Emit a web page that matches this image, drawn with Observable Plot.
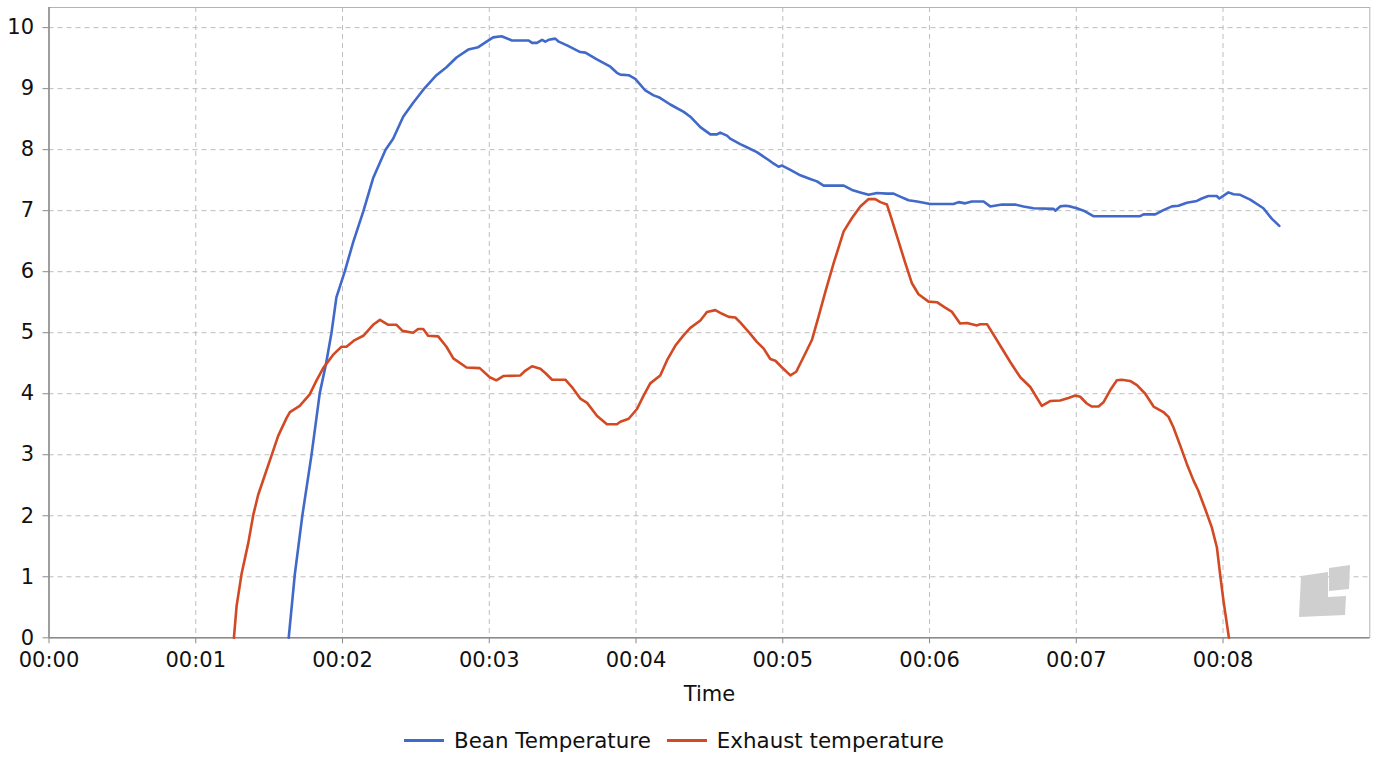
<!DOCTYPE html>
<html>
<head>
<meta charset="utf-8">
<script src="https://cdn.jsdelivr.net/npm/d3@7"></script>
<script src="https://cdn.jsdelivr.net/npm/@observablehq/plot@0.6"></script>
<style>
  html, body { margin: 0; padding: 0; background: #fff; }
  body { width: 1382px; height: 762px; position: relative; overflow: hidden; font-family: "DejaVu Sans", sans-serif; }
  #chart { position: absolute; left: 0; top: 0; }
  #legend { position: absolute; left: 404px; top: 727px; height: 26px; display: flex; align-items: center; font-size: 21.4px; color: #111; white-space: nowrap; }
  .item { display: flex; align-items: center; margin-right: 16px; }
  .sw { width: 40px; height: 3px; margin-right: 10px; }
  #logo { position: absolute; left: 1296px; top: 562px; }
</style>
</head>
<body>
<div id="chart"></div>
<div id="legend"></div>
<svg id="logo" width="60" height="60" viewBox="0 0 60 60">
  <path d="M5 14 L32 10 L32 35 L50 34 L49 53 L3 55 Z" fill="#cfcfcf"/>
  <path d="M33 6 L54 3 L53 27 L33 29 Z" fill="#cfcfcf"/>
</svg>
<script>
// Series names and colours
const seriesNames = ["Bean Temperature", "Exhaust temperature"];
const seriesColors = ["#4169c9", "#d24a24"];

// Tick values (seconds) and labels
const xTicks = [0, 60, 120, 180, 240, 300, 360, 420, 480];
const xTickLabels = ["00:00", "00:01", "00:02", "00:03", "00:04", "00:05", "00:06", "00:07", "00:08"];
const yTicks = [0, 1, 2, 3, 4, 5, 6, 7, 8, 9, 10];

// Bean temperature (time in seconds, value)
const beanTime = [98.0,100.5,103.6,107.3,110.7,113.2,115.5,117.5,120.9,124.4,128.5,132.5,137.6,140.7,144.8,148.9,153.6,158.4,162.5,166.6,171.4,175.5,178.9,181.6,185.0,189.3,196.1,197.5,199.5,201.6,202.9,204.3,207.0,208.4,211.8,217.2,219.3,224.0,229.5,232.2,233.6,237.0,239.7,243.8,247.2,249.3,254.0,259.5,262.2,266.3,270.4,273.1,274.4,277.2,278.5,282.6,285.3,289.4,294.2,296.3,298.3,299.7,303.1,307.2,311.2,314.0,316.7,324.9,328.3,331.7,335.1,338.5,342.6,345.3,348.0,351.4,354.9,360.3,369.8,371.9,374.6,377.3,382.1,384.8,389.6,395.0,398.4,402.5,410.7,411.4,413.4,415.5,417.5,420.2,423.0,427.0,446.1,447.5,452.3,455.6,459.1,461.8,465.2,469.3,471.3,474.0,477.4,478.5,482.2,484.3,487.0,491.1,496.5,499.9,503.0];
const beanTemp = [0,1.04,2.01,2.99,4.01,4.48,5.0,5.58,6.0,6.49,6.99,7.53,8.0,8.18,8.54,8.77,9.01,9.22,9.35,9.51,9.64,9.68,9.77,9.84,9.86,9.79,9.79,9.75,9.75,9.80,9.77,9.80,9.82,9.77,9.71,9.60,9.59,9.48,9.36,9.26,9.23,9.22,9.16,8.97,8.89,8.86,8.74,8.62,8.54,8.37,8.25,8.25,8.28,8.23,8.18,8.09,8.04,7.96,7.83,7.77,7.72,7.74,7.67,7.58,7.52,7.48,7.41,7.41,7.34,7.30,7.26,7.29,7.28,7.28,7.23,7.17,7.15,7.11,7.11,7.14,7.12,7.15,7.15,7.07,7.10,7.10,7.07,7.04,7.03,7.00,7.07,7.08,7.07,7.04,7.00,6.91,6.91,6.94,6.94,7.01,7.07,7.08,7.13,7.16,7.20,7.24,7.24,7.20,7.30,7.27,7.26,7.18,7.04,6.87,6.75];

// Exhaust temperature (time in seconds, value)
const exhaustTime = [75.6,76.7,78.7,81.5,83.5,85.5,88.2,91.0,93.7,97.1,98.5,102.5,106.6,109.4,112.1,116.2,119.6,121.6,125.0,128.5,132.5,135.3,138.7,142.1,144.5,148.9,150.9,153.0,155.0,159.1,162.5,165.3,170.7,176.1,180.2,182.9,185.7,192.7,194.8,197.5,200.9,202.9,205.7,211.1,213.8,217.2,220.0,224.0,228.1,232.2,233.6,237.0,240.4,243.1,245.8,249.9,252.7,256.1,259.5,262.2,266.3,269.0,272.4,275.2,277.9,280.6,282.6,286.1,289.4,292.2,294.9,297.0,299.7,303.1,305.5,309.2,311.9,314.6,317.4,320.8,324.9,328.3,331.7,335.1,337.8,339.9,342.6,344.6,346.7,350.1,352.8,355.5,359.6,363.0,366.4,369.2,372.5,375.3,379.4,380.7,383.5,387.5,393.0,397.1,401.2,405.9,409.3,413.4,416.8,419.6,421.6,424.3,426.4,429.1,431.1,433.9,436.6,438.6,442.0,444.8,448.2,451.6,455.6,457.7,459.7,462.5,465.2,467.9,469.9,472.7,475.4,477.5,478.8,480.2,482.4];
const exhaustTemp = [0,0.52,1.04,1.56,2.01,2.34,2.66,2.99,3.31,3.60,3.70,3.80,3.99,4.22,4.42,4.64,4.77,4.77,4.88,4.95,5.13,5.21,5.13,5.13,5.03,5.00,5.06,5.06,4.95,4.94,4.77,4.58,4.43,4.42,4.27,4.22,4.29,4.30,4.38,4.45,4.41,4.34,4.23,4.23,4.11,3.92,3.85,3.64,3.50,3.50,3.54,3.59,3.75,3.97,4.17,4.30,4.55,4.79,4.96,5.08,5.20,5.34,5.37,5.31,5.26,5.25,5.17,5.01,4.85,4.74,4.57,4.54,4.43,4.30,4.36,4.66,4.88,5.26,5.67,6.14,6.66,6.88,7.07,7.19,7.19,7.14,7.10,6.85,6.58,6.14,5.81,5.63,5.51,5.50,5.41,5.34,5.15,5.16,5.12,5.14,5.14,4.88,4.52,4.27,4.11,3.80,3.88,3.89,3.93,3.97,3.95,3.84,3.79,3.79,3.86,4.06,4.22,4.23,4.21,4.14,4.00,3.79,3.70,3.62,3.45,3.15,2.85,2.58,2.41,2.11,1.81,1.48,1.04,0.60,0];

const bean = beanTime.map((t, i) => ({t, v: beanTemp[i]}));
const exhaust = exhaustTime.map((t, i) => ({t, v: exhaustTemp[i]}));

const W = 1382, H = 710;
const mTop = 7, mBottom = 72.7, mLeft = 48.5, mRight = 12.7;
const FS = 21;

const chart = Plot.plot({
  width: W,
  height: H,
  marginTop: mTop,
  marginBottom: mBottom,
  marginLeft: mLeft,
  marginRight: mRight,
  style: { fontFamily: "DejaVu Sans, sans-serif", fontSize: FS + "px", color: "#111", background: "#fff", overflow: "visible" },
  x: { domain: [0, 540], ticks: xTicks, label: null },
  y: { domain: [0, 10.33], label: null },
  marks: [
    Plot.gridX(xTicks.slice(1), { stroke: "#bdbdbd", strokeOpacity: 1, strokeDasharray: "5,4" }),
    Plot.gridY(yTicks.slice(1), { stroke: "#bdbdbd", strokeOpacity: 1, strokeDasharray: "5,4" }),
    Plot.frame({ stroke: "#b3b3b3" }),
    Plot.ruleY([0], { stroke: "#8a8a8a", strokeWidth: 1.5 }),
    Plot.ruleX([0], { stroke: "#8a8a8a", strokeWidth: 1.5 }),
    Plot.axisX(xTicks, { tickSize: 6, tickPadding: 8, stroke: "#8a8a8a", fill: "#111", fontSize: FS, tickFormat: (d) => xTickLabels[xTicks.indexOf(d)], label: null }),
    Plot.axisY(yTicks, { tickSize: 6, tickPadding: 9, stroke: "#8a8a8a", fill: "#111", fontSize: FS, tickFormat: (d) => String(d), label: null }),
    Plot.text(["Time"], { frameAnchor: "bottom", dy: 63, fill: "#111", fontSize: FS }),
    Plot.line(bean, { x: "t", y: "v", stroke: seriesColors[0], strokeWidth: 2.6 }),
    Plot.line(exhaust, { x: "t", y: "v", stroke: seriesColors[1], strokeWidth: 2.6 })
  ]
});
document.getElementById("chart").appendChild(chart);

const legend = document.getElementById("legend");
seriesNames.forEach((name, i) => {
  const item = document.createElement("div");
  item.className = "item";
  const sw = document.createElement("div");
  sw.className = "sw";
  sw.style.background = seriesColors[i];
  const label = document.createElement("span");
  label.textContent = name;
  item.appendChild(sw);
  item.appendChild(label);
  legend.appendChild(item);
});
</script>
</body>
</html>
